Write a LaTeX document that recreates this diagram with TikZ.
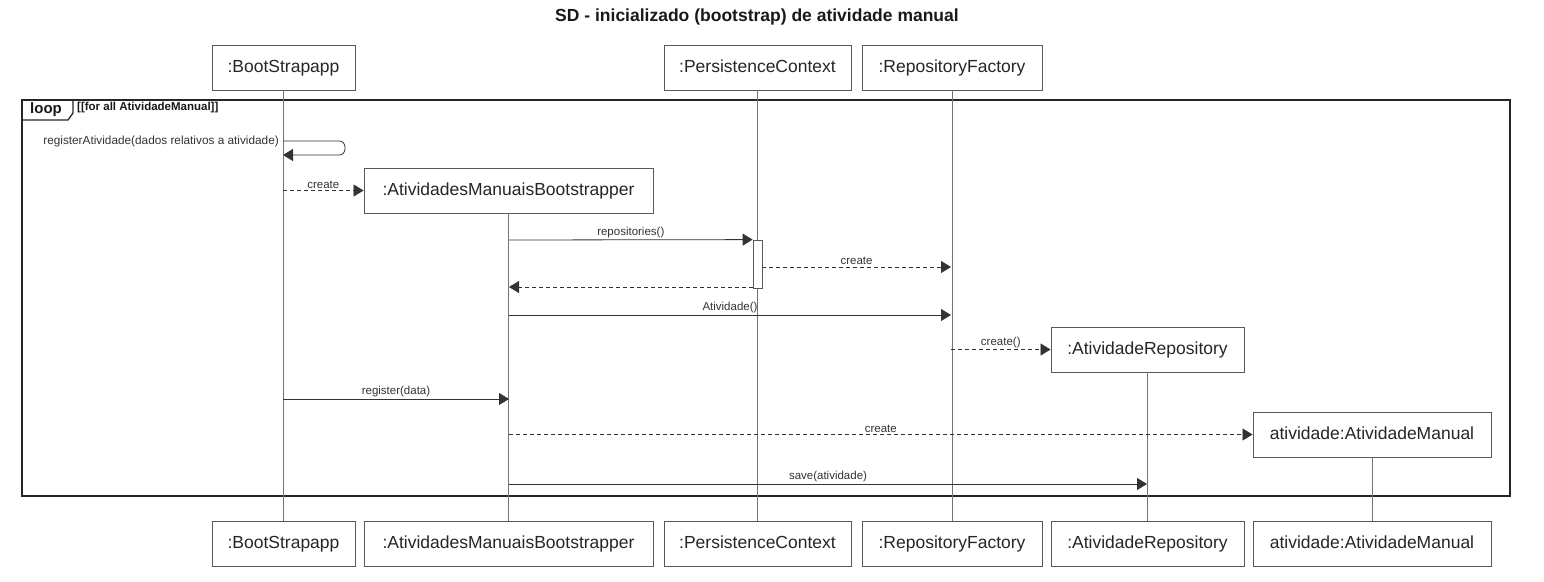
\documentclass[tikz,border=0pt]{standalone}
\usepackage{fontspec}
\setmainfont{Liberation Sans}
\usetikzlibrary{arrows.meta}
\begin{document}
\begin{tikzpicture}[x=1pt,y=-1pt,
 obj/.style={draw=black!65,line width=0.9pt,fill=white,minimum height=45pt,inner sep=0pt,text height=12.5pt,text depth=3.5pt,font=\fontsize{17.5}{20}\selectfont,text=black!85},
 life/.style={draw=black!55,line width=0.8pt},
 msg/.style={draw=black!80,line width=0.8pt,-{Triangle[length=10pt,width=12pt]}},
 dmsg/.style={msg,dash pattern=on 4pt off 3pt},
 lbl/.style={font=\fontsize{11.5}{13}\selectfont,text=black!80,inner sep=1.5pt,above},
 frame/.style={draw=black!85,line width=1.8pt},
 tab/.style={draw=black!85,line width=1.3pt}]
\useasboundingbox (0,0) rectangle (1544,581);
% title
\node[font=\bfseries\fontsize{17.5}{20}\selectfont,text=black!90] (title) at (757,17) {SD - inicializado (bootstrap) de atividade manual};
% lifeline heads
\node[obj,minimum width=143pt] (bs) at (283.5,67.5) {:BootStrapapp};
\node[obj,minimum width=187pt] (pc) at (757.5,67.5) {:PersistenceContext};
\node[obj,minimum width=180pt] (rf) at (952,67.5) {:RepositoryFactory};
% bottom boxes
\node[obj,minimum width=143pt] (bs2) at (283.5,543.5) {:BootStrapapp};
\node[obj,minimum width=289pt] (amb2) at (508.5,543.5) {:AtividadesManuaisBootstrapper};
\node[obj,minimum width=187pt] (pc2) at (757.5,543.5) {:PersistenceContext};
\node[obj,minimum width=180pt] (rf2) at (952,543.5) {:RepositoryFactory};
\node[obj,minimum width=193pt] (ar2) at (1147.5,543.5) {:AtividadeRepository};
\node[obj,minimum width=238pt] (am2) at (1372,543.5) {atividade:AtividadeManual};
% loop frame
\draw[frame] (22,100) rectangle (1510,496);
\draw[tab] (22,100) -- (73,100) -- (73,113) -- (68,120) -- (22,120);
\node[font=\bfseries\fontsize{15}{17}\selectfont,text=black!90] (looplbl) at (46,110) {loop};
\node[anchor=west,font=\bfseries\fontsize{11.5}{13}\selectfont,text=black!90,inner sep=0pt] (guard) at (77,108) {[[for all AtividadeManual]]};
% lifelines
\draw[life] (bs.south) -- (bs2.north);
\draw[life] (pc.south) -- (pc2.north);
\draw[life] (rf.south) -- (rf2.north);
% created objects
\node[obj,minimum width=289pt] (amb) at (508.5,190.5) {:AtividadesManuaisBootstrapper};
\node[obj,minimum width=193pt] (ar) at (1147.5,349.5) {:AtividadeRepository};
\node[obj,minimum width=238pt] (am) at (1372,434.5) {atividade:AtividadeManual};
\draw[life] (amb.south) -- (amb2.north);
\draw[life] (ar.south) -- (ar2.north);
\draw[life] (am.south) -- (am2.north);
% activation
\node[draw=black!65,line width=0.8pt,fill=white,minimum width=9pt,minimum height=48pt,inner sep=0pt] (act) at (757.5,264) {};
% message points
\coordinate (s1) at (283,141);
\coordinate (s2) at (283,155);
\coordinate (c1) at (283,190.5);
\coordinate (r1) at (509,240);
\coordinate (r2) at (act.north west);
\coordinate (k1) at (762,267);
\coordinate (k2) at (951,267);
\coordinate (q1) at (753,287);
\coordinate (q2) at (509,287);
\coordinate (a1) at (509,315);
\coordinate (a2) at (951,315);
\coordinate (f1) at (951,349.5);
\coordinate (g1) at (283,399);
\coordinate (g2) at (509,399);
\coordinate (h1) at (509,434.5);
\coordinate (v1) at (509,484);
\coordinate (v2) at (1147,484);
% messages
\draw[msg,rounded corners=6pt] (s1) -- (345,141) -- (345,155) -- (s2);
\node[anchor=east,font=\fontsize{11.8}{13}\selectfont,text=black!80,inner sep=0pt] (selflbl) at (279,141) {registerAtividade(dados relativos a atividade)};
\draw[dmsg] (c1) -- node[lbl] (l1) {create} (amb.west);
\draw[msg] (r1) -- node[lbl] (l2) {repositories()} (r2);
\draw[dmsg] (k1) -- node[lbl] (l3) {create} (k2);
\draw[dmsg] (q1) -- (q2);
\draw[msg] (a1) -- node[lbl] (l4) {Atividade()} (a2);
\draw[dmsg] (f1) -- node[lbl] (l5) {create()} (ar.west);
\draw[msg] (g1) -- node[lbl] (l6) {register(data)} (g2);
\draw[dmsg] (h1) -- node[lbl] (l7) {create} (am.west);
\draw[msg] (v1) -- node[lbl] (l8) {save(atividade)} (v2);
\end{tikzpicture}
\end{document}
